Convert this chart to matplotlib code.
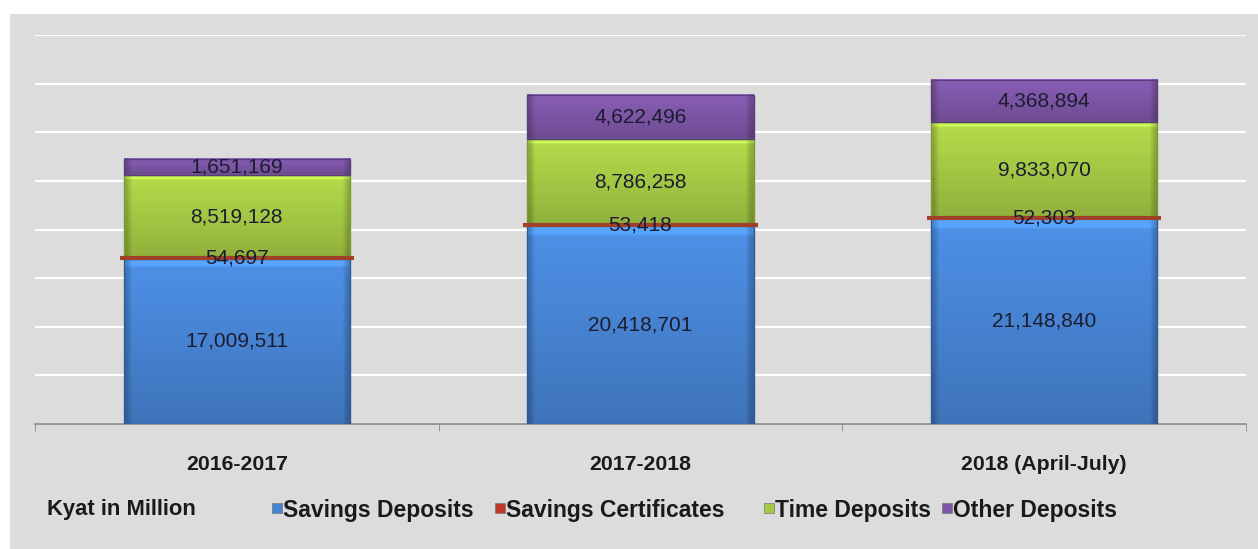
import numpy as np
import matplotlib
matplotlib.use("Agg")
from matplotlib import pyplot as plt
from matplotlib.lines import Line2D
from matplotlib.patches import Rectangle
from matplotlib.colors import to_rgb

plt.rcParams['font.family'] = ['Liberation Sans', 'DejaVu Sans']

# data (Kyat in Million)
periods = ["2016-2017", "2017-2018", "2018 (April-July)"]
series_names = ["Savings Deposits", "Savings Certificates", "Time Deposits", "Other Deposits"]
savings_deposits = [17009511, 20418701, 21148840]
savings_certificates = [54697, 53418, 52303]
time_deposits = [8519128, 8786258, 9833070]
other_deposits = [1651169, 4622496, 4368894]

series = [savings_deposits, savings_certificates, time_deposits, other_deposits]
colors = ["#4784d3", "#c0392b", "#a4c944", "#7d56a6"]
edge_colors = ["#2f5b99", "#a0402a", "#7d9a2f", "#5a3d7d"]

bg = "#dcdcdc"
W, H = 1258, 549
fig = plt.figure(figsize=(W / 100, H / 100), dpi=100)
fig.patch.set_facecolor("white")
# grey panel behind everything
fig.add_artist(Rectangle((10 / W, 0), 1 - 10 / W, 1 - 14 / H, transform=fig.transFigure,
                         facecolor=bg, edgecolor="none", zorder=-10))

ax = fig.add_axes([35 / W, 1 - 424 / H, (1246 - 35) / W, (424 - 35) / H])
ax.set_facecolor(bg)
ax.patch.set_alpha(0)


def shade(color, y):
    # vertical bevel: lighter top edge, darker towards bottom
    c = np.array(to_rgb(color))
    f = 1.1 - 0.22 * y
    f = np.where(y < 0.04, 1.25, f)
    return np.clip(c[None, :] * f[:, None], 0, 1)


width = 0.56
x = np.arange(len(periods))
bottoms = np.zeros(len(periods))
for i, vals in enumerate(series):
    vals = np.array(vals, dtype=float)
    for j in range(len(periods)):
        x0, x1 = x[j] - width / 2, x[j] + width / 2
        y0, y1 = bottoms[j], bottoms[j] + vals[j]
        if i == 1:
            ax.plot([x0 - 0.01, x1 + 0.01], [y0 + vals[j] / 2] * 2, color=edge_colors[i],
                    lw=3, zorder=4, solid_capstyle="butt")
        else:
            yy = np.linspace(0, 1, 60)
            img = shade(colors[i], yy)[:, None, :]
            xx = np.linspace(0, 1, 40)
            side = np.where((xx < 0.015) | (xx > 0.985), 0.8, 1.0)
            img = img * side[None, :, None]
            ax.imshow(img, extent=(x0, x1, y0, y1), origin="upper", aspect="auto",
                      interpolation="bilinear", zorder=3)
            ax.add_patch(Rectangle((x0, y0), width, vals[j], facecolor="none",
                                   edgecolor=edge_colors[i], lw=1.0, zorder=3.5))
        ax.text(x[j], y0 + vals[j] / 2, f"{int(vals[j]):,}", ha="center", va="center",
                fontsize=15, color="#1c1c30", zorder=5)
    bottoms += vals

ax.set_xlim(-0.5, len(periods) - 0.5)
ax.set_ylim(0, 40000000)
ax.set_yticks(np.arange(0, 40000001, 5000000))
ax.yaxis.grid(True, color="white", lw=1.6, zorder=0)
ax.set_axisbelow(True)
ax.tick_params(axis="y", length=0, labelleft=False)
ax.set_xticks(x)
ax.set_xticklabels(periods, fontsize=15.3, fontweight="bold", color="#1a1a1a")
ax.tick_params(axis="x", which="major", length=0, pad=22)
ax.set_xticks(np.arange(-0.5, len(periods)), minor=True)
ax.tick_params(axis="x", which="minor", length=5, color="#888888", direction="out")
for s in ["top", "left", "right"]:
    ax.spines[s].set_visible(False)
ax.spines["bottom"].set_color("#888888")
ax.spines["bottom"].set_linewidth(1.2)

# legend row
ly = 1 - 510 / H
fig.text(47 / W, ly, "Kyat in Million", fontsize=15.8, fontweight="bold",
         va="center", ha="left", color="#1a1a1a")
marker_x = [277, 500, 769, 947]
for name, c, mx in zip(series_names, colors, marker_x):
    fig.add_artist(Line2D([mx / W], [ly + 2 / H], marker="s", markersize=7, color=c,
                          markeredgecolor="#777777", markeredgewidth=0.5,
                          transform=fig.transFigure))
    fig.text((mx + 6) / W, ly, name, fontsize=16.5, fontweight="bold", va="center",
             ha="left", color="#1a1a1a")

fig.savefig("out.png", dpi=100)
